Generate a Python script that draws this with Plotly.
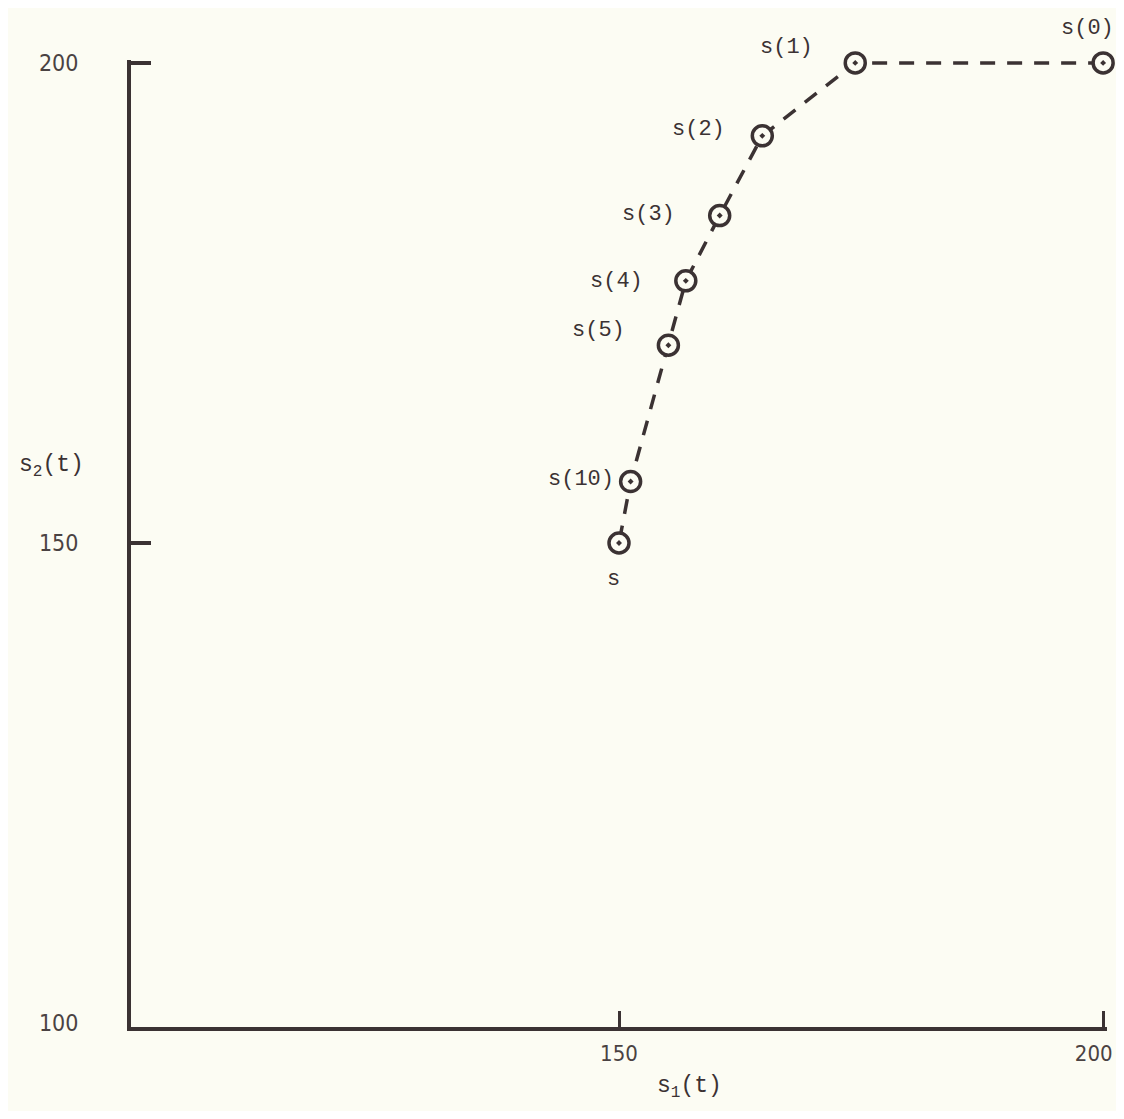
import plotly.graph_objects as go

# iterates s(0), s(1), ... s(10) and the limit s
labels = ["s(0)", "s(1)", "s(2)", "s(3)", "s(4)", "s(5)", "s(10)", "s"]
s1 = [200, 174.4, 164.8, 160.4, 156.9, 155.1, 151.2, 150]
s2 = [200, 200, 192.4, 184.1, 177.3, 170.6, 156.4, 150]

x_ticks = [150, 200]
x_tick_text = ["150", "200\u00a0\u00a0\u00a0"]  # padded so the last label stays inside the window
y_ticks = [100, 150, 200]
y_tick_marks = [150, 200]

ink = "#3b3233"
paper = "#fcfcf3"

fig = go.Figure()

fig.add_trace(go.Scatter(
    x=s1, y=s2,
    mode="lines+markers",
    line={"color": ink, "width": 3.5, "dash": "15px,12px"},
    marker={"symbol": "circle-dot", "size": 20, "color": paper,
            "line": {"color": ink, "width": 3.5}},
    cliponaxis=False,
    showlegend=False,
))

# label placement (anchor, xshift, yshift) for each point
label_style = [
    ("center", -16, 34),
    ("right", -40, 15),
    ("right", -35, 6),
    ("right", -43, 1),
    ("right", -41, -1),
    ("right", -41, 15),
    ("right", -15, 2),
    ("center", -6, -36),
]
for lab, x, y, (anchor, dx, dy) in zip(labels, s1, s2, label_style):
    fig.add_annotation(
        x=x, y=y, text=lab, showarrow=False,
        xanchor=anchor, yanchor="middle", xshift=dx, yshift=dy,
        font={"family": "Liberation Mono, Courier New, monospace", "size": 22, "color": ink},
    )

# axis titles
fig.add_annotation(
    xref="paper", x=0, y=158, text="s<sub>2</sub>(t)", showarrow=False,
    xanchor="center", xshift=-80,
    font={"family": "Liberation Mono, monospace", "size": 23, "color": ink},
)
fig.add_annotation(
    x=157.3, yref="paper", y=0, text="s<sub>1</sub>(t)", showarrow=False,
    yanchor="middle", yshift=-60,
    font={"family": "Liberation Mono, monospace", "size": 23, "color": ink},
)

tick_font = {"family": "Liberation Sans Narrow, DejaVu Sans Condensed, sans-serif",
             "size": 23, "color": "#4a4242"}

fig.update_xaxes(
    range=[99.6, 200.4], tickvals=x_ticks, ticktext=x_tick_text,
    showgrid=False, zeroline=False, automargin=False,
    showline=True, linecolor=ink, linewidth=4,
    ticks="inside", ticklen=16, tickwidth=3, tickcolor=ink,
    ticklabelstandoff=4, ticklabeloverflow="allow",
    tickfont={**tick_font, "size": 22},
)

fig.update_layout(
    yaxis={
        "range": [99.6, 200.3], "tickvals": y_ticks, "ticktext": [str(v) for v in y_ticks],
        "showgrid": False, "zeroline": False, "automargin": False,
        "showline": True, "linecolor": ink, "linewidth": 4,
        "ticks": "", "ticklabelstandoff": 44, "ticklabeloverflow": "allow",
        "tickfont": tick_font,
    },
    # second axis only carries the inward tick marks at 150 and 200
    yaxis2={
        "overlaying": "y", "matches": "y", "side": "left", "automargin": False,
        "tickvals": y_tick_marks, "showticklabels": False,
        "showgrid": False, "zeroline": False, "showline": False,
        "ticks": "inside", "ticklen": 20, "tickwidth": 4, "tickcolor": ink,
    },
)

# invisible point to activate the tick-mark axis
fig.add_trace(go.Scatter(x=[s1[-1]], y=[s2[-1]], yaxis="y2", mode="markers",
                         marker={"opacity": 0}, showlegend=False, hoverinfo="skip"))

# the page adds an 8px body margin, so the figure is shrunk and the margins shifted
fig.update_layout(
    width=1108, height=1103,
    margin={"l": 123, "r": 9, "t": 52, "b": 84},
    paper_bgcolor=paper, plot_bgcolor=paper,
    showlegend=False,
)

fig.write_html("out.html")
